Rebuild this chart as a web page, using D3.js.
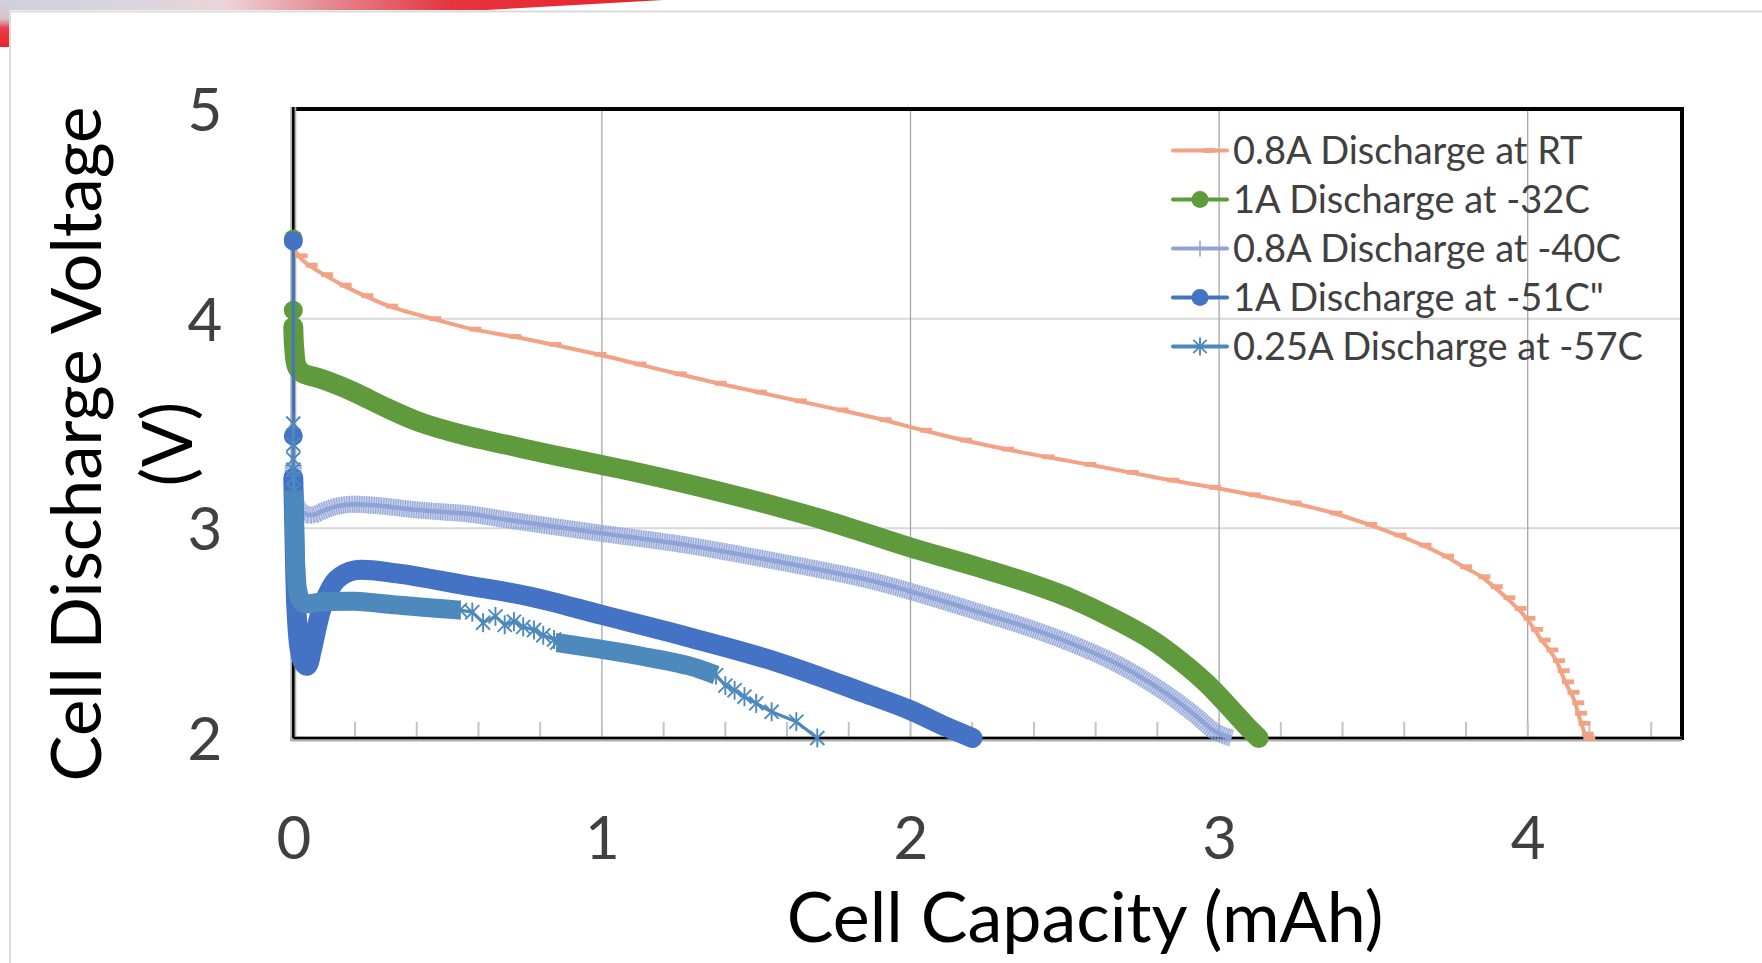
<!DOCTYPE html>
<html>
<head>
<meta charset="utf-8">
<script src="https://cdn.jsdelivr.net/npm/d3@7"></script>
<style>
  html, body { margin: 0; padding: 0; background: #fff; overflow: hidden; }
  svg { display: block; }
  text { font-family: Lato, "Open Sans", sans-serif; }
</style>
</head>
<body>
<svg id="chart" width="1762" height="963"></svg>
<script>
// ---- Axis ticks and labels ----
const xTicks = [0, 1, 2, 3, 4];
const yTicks = [2, 3, 4, 5];
const xTitle = "Cell Capacity (mAh)";
const yTitleLines = ["Cell Discharge Voltage", "(V)"];
const seriesNames = [
  "0.8A Discharge at RT",
  "1A Discharge at -32C",
  "0.8A Discharge at -40C",
  "1A Discharge at -51C\"",
  "0.25A Discharge at -57C"
];

// ---- Discharge curves: [capacity (mAh), voltage (V)] ----
const rtDischarge = [
  [0.000, 4.35], [0.017, 4.30], [0.05, 4.255], [0.10, 4.21], [0.16, 4.16], [0.23, 4.11],
  [0.31, 4.06], [0.45, 4.00], [0.58, 3.95], [0.71, 3.915], [0.84, 3.877], [0.985, 3.83],
  [1.115, 3.784], [1.245, 3.737], [1.375, 3.692], [1.505, 3.65], [1.635, 3.608], [1.77, 3.565],
  [1.91, 3.518], [2.04, 3.468], [2.17, 3.421], [2.306, 3.378], [2.438, 3.341], [2.573, 3.305],
  [2.71, 3.267], [2.842, 3.23], [2.977, 3.196], [3.106, 3.16], [3.238, 3.121], [3.37, 3.073],
  [3.483, 3.019], [3.578, 2.968], [3.659, 2.92], [3.732, 2.868], [3.791, 2.817], [3.85, 2.769],
  [3.89, 2.722], [3.931, 2.669], [3.967, 2.618], [3.996, 2.571], [4.021, 2.518], [4.045, 2.467],
  [4.07, 2.42], [4.092, 2.369], [4.107, 2.321], [4.121, 2.268], [4.139, 2.218], [4.154, 2.168],
  [4.163, 2.118], [4.174, 2.07], [4.185, 2.019], [4.19, 2.0]
];

const m32Discharge = [
  [0.000, 4.38], [0.000, 4.04], [0.000, 3.96], [0.003, 3.86], [0.012, 3.77], [0.031, 3.74],
  [0.087, 3.715], [0.15, 3.68], [0.204, 3.645], [0.306, 3.572], [0.407, 3.508], [0.552, 3.445],
  [0.696, 3.397], [0.841, 3.35], [1.0, 3.302], [1.13, 3.262], [1.275, 3.213], [1.42, 3.16],
  [1.564, 3.105], [1.709, 3.045], [1.854, 2.978], [1.998, 2.91], [2.225, 2.812], [2.372, 2.745],
  [2.519, 2.666], [2.666, 2.563], [2.783, 2.467], [2.871, 2.372], [2.959, 2.261], [3.032, 2.149],
  [3.091, 2.054], [3.128, 2.0]
];

const m40Discharge = [
  [0.000, 3.30], [0.000, 3.22], [0.005, 3.14], [0.02, 3.09], [0.045, 3.065], [0.067, 3.065],
  [0.10, 3.085], [0.14, 3.105], [0.19, 3.115], [0.26, 3.11], [0.407, 3.087], [0.573, 3.068],
  [0.696, 3.04], [1.0, 2.976], [1.275, 2.92], [1.564, 2.843], [1.854, 2.757], [1.998, 2.70],
  [2.233, 2.595], [2.372, 2.531], [2.519, 2.452], [2.666, 2.356], [2.812, 2.229], [2.915, 2.118],
  [2.988, 2.03], [3.04, 2.0]
];

const m51Discharge = [
  [0.000, 4.37], [0.000, 3.44], [0.000, 3.24], [0.004, 2.95], [0.01, 2.62], [0.02, 2.43],
  [0.032, 2.36], [0.045, 2.345], [0.06, 2.42], [0.078, 2.54], [0.095, 2.63], [0.14, 2.755],
  [0.20, 2.80], [0.335, 2.785], [0.552, 2.73], [0.769, 2.674], [1.0, 2.587], [1.275, 2.483],
  [1.564, 2.364], [1.854, 2.213], [1.998, 2.134], [2.114, 2.054], [2.201, 2.0]
];

const m57Discharge = [
  [0.000, 3.50], [0.000, 3.40], [0.000, 3.33], [0.000, 3.28], [0.000, 3.24],
  [0.002, 3.18], [0.004, 3.00], [0.008, 2.82], [0.015, 2.70], [0.030, 2.645], [0.10, 2.65],
  [0.20, 2.652], [0.33, 2.635], [0.45, 2.62], [0.54, 2.61],
  [0.58, 2.60], [0.615, 2.55], [0.655, 2.58], [0.685, 2.54], [0.715, 2.555], [0.745, 2.53],
  [0.78, 2.515], [0.81, 2.49], [0.845, 2.47],
  [0.855, 2.455], [0.99, 2.425], [1.13, 2.39], [1.28, 2.345], [1.37, 2.30],
  [1.40, 2.25], [1.43, 2.228], [1.462, 2.197], [1.50, 2.165], [1.55, 2.125], [1.63, 2.078],
  [1.698, 2.0]
];

// ---- Chart geometry ----
const W = 1762, H = 963;
const plot = { left: 293.3, right: 1682, top: 109, bottom: 738 };
const svg = d3.select("#chart");

const x = d3.scaleLinear().domain([0, 4.5]).range([plot.left, plot.right]);
const y = d3.scaleLinear().domain([2, 5]).range([plot.bottom, plot.top]);

// ---- Slide background and accent ----
const defs = svg.append("defs");
const gTop = defs.append("linearGradient").attr("id", "accentTop")
  .attr("x1", 0).attr("x2", 1).attr("y1", 0).attr("y2", 0);
[["0", "#cfd0dc"], ["0.22", "#dcd6de"], ["0.34", "#ecd4d8"], ["0.5", "#e4868e"],
 ["0.68", "#e6343e"], ["1", "#e8222c"]].forEach(([o, c]) =>
  gTop.append("stop").attr("offset", o).attr("stop-color", c));
const gSide = defs.append("linearGradient").attr("id", "accentSide")
  .attr("x1", 0).attr("x2", 0).attr("y1", 0).attr("y2", 1);
[["0", "#cfd0dc"], ["0.4", "#d8c4ca"], ["0.6", "#e6404a"], ["1", "#e8222c"]].forEach(([o, c]) =>
  gSide.append("stop").attr("offset", o).attr("stop-color", c));

svg.append("rect").attr("width", W).attr("height", H).attr("fill", "#fff");
svg.append("rect").attr("x", 10).attr("y", 11.5).attr("width", W).attr("height", H)
  .attr("fill", "#fff").attr("stroke", "#dcdcdc").attr("stroke-width", 2);
svg.append("polygon").attr("points", "0,0 664,0 486,10 0,10").attr("fill", "url(#accentTop)");
svg.append("rect").attr("x", 0).attr("y", 0).attr("width", 9).attr("height", 47)
  .attr("fill", "url(#accentSide)");

// ---- Gridlines ----
const grid = svg.append("g");
grid.selectAll("line.hg").data(yTicks.filter(v => v > 2 && v < 5)).join("line")
  .attr("x1", plot.left).attr("x2", plot.right)
  .attr("y1", d => y(d)).attr("y2", d => y(d))
  .attr("stroke", "#d9d9d9").attr("stroke-width", 2);
grid.selectAll("line.vg").data(xTicks.filter(v => v > 0)).join("line")
  .attr("x1", d => x(d)).attr("x2", d => x(d))
  .attr("y1", plot.top).attr("y2", plot.bottom)
  .attr("stroke", "#a6a6a6").attr("stroke-width", 1.3);

// minor tick marks along the capacity axis (inside)
const minorTicks = d3.range(1, 23).map(i => i * 0.2).filter(v => v < 4.5);
grid.selectAll("line.mt").data(minorTicks).join("line")
  .attr("x1", d => x(d)).attr("x2", d => x(d))
  .attr("y1", plot.bottom - 16).attr("y2", plot.bottom)
  .attr("stroke", "#c4c4c4").attr("stroke-width", 2);

// ---- Plot frame ----
const frame = svg.append("g");
frame.append("line").attr("x1", plot.left).attr("x2", plot.right + 2)
  .attr("y1", plot.top).attr("y2", plot.top).attr("stroke", "#000").attr("stroke-width", 4);
frame.append("line").attr("x1", plot.right).attr("x2", plot.right)
  .attr("y1", plot.top - 2).attr("y2", plot.bottom + 2).attr("stroke", "#000").attr("stroke-width", 4);
// value and category axis lines
frame.append("line").attr("x1", plot.left).attr("x2", plot.left)
  .attr("y1", plot.top - 2).attr("y2", plot.bottom + 3).attr("stroke", "#b0b0b0").attr("stroke-width", 6);
frame.append("line").attr("x1", plot.left - 3).attr("x2", plot.right)
  .attr("y1", plot.bottom + 1).attr("y2", plot.bottom + 1).attr("stroke", "#b0b0b0").attr("stroke-width", 5);
frame.append("line").attr("x1", plot.left).attr("x2", plot.left)
  .attr("y1", plot.top - 2).attr("y2", plot.bottom).attr("stroke", "#000").attr("stroke-width", 2.5);
frame.append("line").attr("x1", plot.left).attr("x2", plot.right + 2)
  .attr("y1", plot.bottom).attr("y2", plot.bottom).attr("stroke", "#000").attr("stroke-width", 2.5);

// ---- Tick labels ----
const tickFont = 60, capRatio = 0.717;
const yAxis = d3.axisLeft(y).tickValues(yTicks).tickFormat(d3.format("d")).tickSize(0).tickPadding(0);
const yAxisG = svg.append("g").attr("transform", `translate(${plot.left},0)`).call(yAxis);
yAxisG.select(".domain").remove();
yAxisG.selectAll("text")
  .attr("x", 205 - plot.left).attr("dy", null).attr("y", tickFont * capRatio / 2)
  .attr("text-anchor", "middle").attr("fill", "#404040")
  .style("font-size", tickFont + "px").style("font-family", "Lato, sans-serif");

const xAxis = d3.axisBottom(x).tickValues(xTicks).tickFormat(d3.format("d")).tickSize(0).tickPadding(0);
const xAxisG = svg.append("g").attr("transform", `translate(0,${plot.bottom})`).call(xAxis);
xAxisG.select(".domain").remove();
xAxisG.selectAll("text")
  .attr("dy", null).attr("y", 837 - plot.bottom + tickFont * capRatio / 2)
  .attr("text-anchor", "middle").attr("fill", "#404040")
  .style("font-size", tickFont + "px").style("font-family", "Lato, sans-serif");

// ---- Axis titles ----
svg.append("text").attr("x", 1085).attr("y", 942).attr("text-anchor", "middle")
  .attr("fill", "#000").style("font-size", "70px").text(xTitle);
const yt = svg.append("g").attr("transform", "translate(101,444) rotate(-90)");
yt.selectAll("text").data(yTitleLines).join("text")
  .attr("x", 0).attr("y", (d, i) => i * 91).attr("text-anchor", "middle")
  .attr("fill", "#000").style("font-size", "69px").text(d => d);

// ---- Series styling ----
const colors = ["#F2A385", "#5F9A3D", "#8FA3D6", "#4472C4", "#4E89BD"];
const straight = d3.line().x(d => x(d[0])).y(d => y(d[1]));
const smooth = d3.line().x(d => x(d[0])).y(d => y(d[1])).curve(d3.curveCatmullRom.alpha(0.5));

function dashMarker(g, px, py, color) {
  g.append("rect").attr("x", px - 3).attr("y", py - 2.4).attr("width", 12).attr("height", 4.8)
    .attr("fill", color);
}
function circleMarker(g, px, py, color, r) {
  g.append("circle").attr("cx", px).attr("cy", py).attr("r", r).attr("fill", color);
}
function plusMarker(g, px, py, color) {
  g.append("line").attr("x1", px).attr("x2", px).attr("y1", py - 8.5).attr("y2", py + 8.5)
    .attr("stroke", color).attr("stroke-width", 1.6);
  g.append("line").attr("x1", px - 8.5).attr("x2", px + 8.5).attr("y1", py).attr("y2", py)
    .attr("stroke", color).attr("stroke-width", 1.6);
}
function starMarker(g, px, py, color, s) {
  const a = s / 2, b = s / 2 * 0.74;
  [[0, -a, 0, a], [-b, -b, b, b], [-b, b, b, -b]].forEach(([x1, y1, x2, y2]) =>
    g.append("line").attr("x1", px + x1).attr("y1", py + y1).attr("x2", px + x2).attr("y2", py + y2)
      .attr("stroke", color).attr("stroke-width", 1.9));
}

const plotG = svg.append("g");

// 0.8A at RT: line with dash markers
(function () {
  const g = plotG.append("g"), c = colors[0];
  g.append("path").attr("d", smooth(rtDischarge)).attr("fill", "none")
    .attr("stroke", c).attr("stroke-width", 4).attr("stroke-linejoin", "round");
  rtDischarge.slice(1).forEach(d => dashMarker(g, x(d[0]), y(d[1]), c));
})();

// 1A at -32C: dense circle markers form a solid band
(function () {
  const g = plotG.append("g"), c = colors[1];
  g.append("path").attr("d", straight(m32Discharge)).attr("fill", "none")
    .attr("stroke", c).attr("stroke-width", 3);
  g.append("path").attr("d", smooth(m32Discharge.slice(2))).attr("fill", "none")
    .attr("stroke", c).attr("stroke-width", 20)
    .attr("stroke-linecap", "round").attr("stroke-linejoin", "round");
  m32Discharge.slice(0, 3).forEach(d => circleMarker(g, x(d[0]), y(d[1]), c, 9.5));
})();

// 0.8A at -40C: dense plus markers form a hatched band
(function () {
  const g = plotG.append("g"), c = colors[2];
  const d = smooth(m40Discharge);
  g.append("path").attr("d", d).attr("fill", "none").attr("stroke", c)
    .attr("stroke-width", 17).attr("stroke-opacity", 0.45).attr("stroke-linejoin", "round");
  g.append("path").attr("d", d).attr("fill", "none").attr("stroke", c)
    .attr("stroke-width", 17).attr("stroke-dasharray", "1.2 1.2").attr("stroke-opacity", 0.9);
  g.append("path").attr("d", d).attr("fill", "none").attr("stroke", c)
    .attr("stroke-width", 4.5).attr("stroke-linejoin", "round");
  m40Discharge.slice(0, 3).forEach(p => plusMarker(g, x(p[0]), y(p[1]), c));
})();

// 1A at -51C: circle markers, dense after the first readings
(function () {
  const g = plotG.append("g"), c = colors[3];
  g.append("path").attr("d", straight(m51Discharge)).attr("fill", "none")
    .attr("stroke", c).attr("stroke-width", 3);
  g.append("path").attr("d", smooth(m51Discharge.slice(2))).attr("fill", "none")
    .attr("stroke", c).attr("stroke-width", 20)
    .attr("stroke-linecap", "round").attr("stroke-linejoin", "round");
  m51Discharge.slice(0, 3).forEach(d => circleMarker(g, x(d[0]), y(d[1]), c, 9.5));
})();

// 0.25A at -57C: star markers, two densely logged stretches
(function () {
  const g = plotG.append("g"), c = colors[4];
  const denseSpans = [[5, 14], [24, 28]];
  g.append("path").attr("d", straight(m57Discharge)).attr("fill", "none")
    .attr("stroke", c).attr("stroke-width", 3.2).attr("stroke-linejoin", "round");
  denseSpans.forEach(([a, b]) =>
    g.append("path").attr("d", smooth(m57Discharge.slice(a, b + 1))).attr("fill", "none")
      .attr("stroke", c).attr("stroke-width", 19)
      .attr("stroke-linecap", "butt").attr("stroke-linejoin", "round"));
  m57Discharge.forEach((d, i) => {
    const inDense = denseSpans.some(([a, b]) => i > a && i < b);
    if (!inDense) starMarker(g, x(d[0]), y(d[1]), c, 19);
  });
})();

// ---- Legend ----
const legend = svg.append("g");
const legX0 = 1173, legX1 = 1227, legMid = 1200, legTextX = 1233, legY0 = 150.5, legStep = 49;
seriesNames.forEach((name, i) => {
  const cy = legY0 + i * legStep, c = colors[i];
  const g = legend.append("g");
  g.append("line").attr("x1", legX0).attr("x2", legX1).attr("y1", cy).attr("y2", cy)
    .attr("stroke", c).attr("stroke-width", 4).attr("stroke-linecap", "round");
  if (i === 0) dashMarker(g, legMid + 6, cy, c);
  if (i === 1 || i === 3) circleMarker(g, legMid, cy, c, 8.5);
  if (i === 2) g.append("line").attr("x1", legMid).attr("x2", legMid)
    .attr("y1", cy - 8).attr("y2", cy + 8).attr("stroke", c).attr("stroke-width", 1.5);
  if (i === 4) starMarker(g, legMid, cy, c, 18);
  g.append("text").attr("x", legTextX).attr("y", cy + 13.5).attr("fill", "#404040")
    .style("font-size", "38px").text(name);
});
</script>
</body>
</html>
